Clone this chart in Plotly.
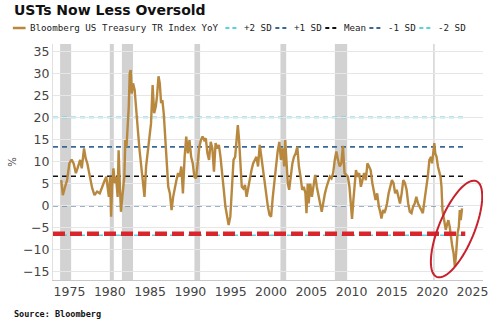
import math
import plotly.graph_objects as go

# Bloomberg US Treasury Total Return Index, year-over-year % change
dates = [
    1973.97, 1974.17, 1974.45, 1974.70, 1974.98, 1975.26, 1975.51, 1975.79, 1975.99, 1976.32,
    1976.52, 1976.80, 1977.00, 1977.21, 1977.53, 1977.82, 1978.10, 1978.42, 1978.75, 1979.03,
    1979.31, 1979.56, 1979.72, 1979.88, 1980.04, 1980.16, 1980.28, 1980.45, 1980.61, 1980.77,
    1980.97, 1981.09, 1981.26, 1981.38, 1981.55, 1981.67, 1981.80, 1981.92, 1982.07, 1982.19,
    1982.35, 1982.47, 1982.59, 1982.72, 1982.88, 1983.08, 1983.28, 1983.48, 1983.69, 1983.89,
    1984.09, 1984.30, 1984.50, 1984.70, 1984.90, 1985.11, 1985.31, 1985.50, 1985.70, 1985.85,
    1986.04, 1986.20, 1986.36, 1986.52, 1986.69, 1986.85, 1987.05, 1987.25, 1987.45, 1987.66,
    1987.86, 1988.06, 1988.26, 1988.47, 1988.67, 1988.87, 1989.07, 1989.28, 1989.48, 1989.68,
    1989.88, 1990.09, 1990.29, 1990.49, 1990.69, 1990.90, 1991.10, 1991.30, 1991.50, 1991.71,
    1991.91, 1992.11, 1992.31, 1992.52, 1992.72, 1992.92, 1993.12, 1993.33, 1993.53, 1993.73,
    1993.93, 1994.14, 1994.34, 1994.54, 1994.74, 1994.95, 1995.15, 1995.35, 1995.55, 1995.76,
    1995.88, 1996.04, 1996.16, 1996.37, 1996.57, 1996.77, 1996.97, 1997.17, 1997.38, 1997.58,
    1997.78, 1997.99, 1998.19, 1998.39, 1998.60, 1998.80, 1999.00, 1999.20, 1999.41, 1999.61,
    1999.81, 2000.01, 2000.22, 2000.42, 2000.62, 2000.82, 2001.03, 2001.23, 2001.43, 2001.64,
    2001.76, 2001.92, 2002.08, 2002.25, 2002.45, 2002.65, 2002.85, 2003.06, 2003.26, 2003.46,
    2003.66, 2003.87, 2004.07, 2004.27, 2004.40, 2004.55, 2004.67, 2004.87, 2005.07, 2005.28,
    2005.48, 2005.68, 2005.88, 2006.09, 2006.29, 2006.49, 2006.69, 2006.90, 2007.10, 2007.30,
    2007.50, 2007.71, 2007.91, 2008.11, 2008.31, 2008.52, 2008.72, 2008.92, 2009.12, 2009.33,
    2009.53, 2009.73, 2009.93, 2010.05, 2010.22, 2010.38, 2010.54, 2010.74, 2010.94, 2011.15,
    2011.35, 2011.55, 2011.76, 2011.96, 2012.16, 2012.36, 2012.57, 2012.77, 2012.97, 2013.17,
    2013.38, 2013.58, 2013.70, 2013.90, 2014.06, 2014.19, 2014.39, 2014.59, 2014.79, 2015.00,
    2015.20, 2015.40, 2015.60, 2015.80, 2016.00, 2016.21, 2016.41, 2016.62, 2016.82, 2017.02,
    2017.22, 2017.43, 2017.63, 2017.83, 2018.03, 2018.24, 2018.44, 2018.64, 2018.84, 2019.05,
    2019.25, 2019.45, 2019.65, 2019.86, 2019.98, 2020.14, 2020.26, 2020.38, 2020.54, 2020.71,
    2020.87, 2021.03, 2021.15, 2021.27, 2021.48, 2021.68, 2021.88, 2022.00, 2022.17, 2022.33,
    2022.49, 2022.65, 2022.81, 2022.97, 2023.14, 2023.30, 2023.42, 2023.54, 2023.70,
]
yoy = [
    5.8, 2.4, 4.3, 5.8, 9.6, 10.5, 9.6, 7.4, 8.5, 10.4,
    8.5, 13.0, 10.8, 9.6, 6.6, 3.9, 2.4, 3.2, 2.8, 4.3,
    5.5, 6.6, 4.3, 2.0, 6.6, -2.5, 4.3, 8.5, 5.1, 6.6,
    2.0, 12.6, 3.9, -1.4, 2.0, 4.3, 6.6, 14.9, 13.4, 17.2,
    22.5, 30.1, 30.8, 25.5, 27.8, 26.3, 22.5, 17.2, 12.6, 8.9,
    5.8, 2.0, 8.9, 12.6, 14.9, 18.7, 27.4, 21.0, 22.5, 24.8,
    29.4, 27.8, 23.3, 24.0, 21.0, 15.7, 8.9, 4.3, 2.8, -1.0,
    2.0, 4.3, 5.8, 7.4, 6.6, 8.9, 2.8, 11.1, 15.7, 11.9,
    14.9, 11.1, 9.6, 6.6, 6.2, 9.6, 13.4, 14.9, 15.7, 14.9,
    15.3, 11.9, 10.4, 14.5, 13.0, 7.7, 14.2, 13.0, 13.8, 11.1,
    8.1, 3.6, -0.2, -2.5, -4.4, -2.5, 4.3, 10.4, 11.1, 17.2,
    18.3, 14.9, 9.6, 4.3, 3.9, 4.7, 2.0, 4.3, 6.6, 8.1,
    9.6, 10.4, 11.1, 8.9, 13.8, 11.1, 8.1, 5.1, 2.8, -0.2,
    -2.1, -2.5, 2.0, 5.8, 8.9, 12.3, 14.5, 10.4, 13.0, 8.9,
    14.9, 8.9, 5.1, 3.6, 6.6, 9.6, 11.1, 11.9, 13.4, 8.9,
    6.6, 3.6, 4.3, 2.8, -1.7, 5.0, 0.5, 5.0, 2.0, 5.0,
    7.0, 4.3, 2.0, 0.5, -1.4, 1.3, 2.8, 4.3, 5.8, 6.6,
    6.2, 7.4, 10.4, 12.3, 10.4, 8.9, 9.6, 13.6, 7.4, 6.9,
    6.6, 4.3, -1.7, -3.0, 1.3, 4.3, 8.1, 6.6, 7.4, 4.3,
    5.8, 7.4, 5.8, 9.6, 8.9, 8.1, 5.1, 2.8, 1.3, 2.8,
    -0.2, -1.7, -2.9, -1.0, -1.7, -1.0, 0.5, 2.8, 4.3, 5.8,
    5.1, 2.8, 3.6, 2.0, 0.5, 2.8, 5.8, 5.1, 3.6, 0.5,
    -1.4, -1.7, -0.2, 0.5, 2.0, 0.5, -0.2, -1.0, -1.7, 1.3,
    3.6, 6.6, 10.4, 11.1, 9.6, 12.6, 14.2, 11.9, 11.1, 8.9,
    7.4, 6.6, 4.3, -1.0, -3.3, -5.5, -4.0, -3.3, -4.8, -7.8,
    -9.3, -10.8, -13.9, -10.8, -6.3, -4.8, -1.0, -3.3, -0.6,
]

# Standard-deviation bands around the long-run mean
band_names = ["+2 SD", "+1 SD", "Mean", "-1 SD", "-2 SD"]
band_levels = [20.07, 13.37, 6.67, -0.03, -6.73]
band_colors = ["#56d4df", "#3a6896", "#111111", "#3a6896", "#56d4df"]

# US recessions (shaded)
rec_start = [1973.83, 1980.00, 1981.50, 1990.50, 2001.17, 2007.92, 2020.12]
rec_end = [1975.20, 1980.50, 1982.88, 1991.20, 2001.88, 2009.45, 2020.30]

threshold_level = -6.4
x_ticks = [1975, 1980, 1985, 1990, 1995, 2000, 2005, 2010, 2015, 2020, 2025]
y_ticks = [-15, -10, -5, 0, 5, 10, 15, 20, 25, 30, 35]

SERIES_NAME = "Bloomberg US Treasury TR Index YoY"
SERIES_COLOR = "#b8883f"
X_RANGE = [1972.95, 2026.3]
Y_RANGE = [-16.9, 36.75]

W, H = 500, 322
PL, PR, PT, PB = 46, 485, 44, 280


def paper_x(px):
    return (px - PL) / (PR - PL)


def paper_y(py):
    return (PB - py) / (PB - PT)


fig = go.Figure()

fig.add_trace(go.Scatter(
    x=dates, y=yoy, mode="lines", name=SERIES_NAME,
    line=dict(color=SERIES_COLOR, width=2.4), showlegend=False,
))

shapes = []
for s, e in zip(rec_start, rec_end):
    shapes.append(dict(type="rect", xref="x", yref="paper", x0=s, x1=e, y0=0, y1=1,
                       fillcolor="#d2d2d2", line=dict(width=0), layer="below"))

for lvl, col in zip(band_levels, band_colors):
    shapes.append(dict(type="line", xref="x", yref="y", x0=X_RANGE[0], x1=dates[-1] + 0.2,
                       y0=lvl, y1=lvl, line=dict(color=col, width=1.6, dash="5px,4px"),
                       layer="below"))

# Highlighted threshold line
shapes.append(dict(type="line", xref="x", yref="y", x0=X_RANGE[0], x1=dates[-1] + 0.4,
                   y0=threshold_level, y1=threshold_level,
                   line=dict(color="#d8262c", width=4.5, dash="12px,5px")))

# Hand-drawn style ellipse around the recent move
cx_px, cy_px, a_px, b_px, tilt = 458, 229, 52, 18, math.radians(23)
pts = []
for i in range(73):
    t = 2 * math.pi * i / 72
    u, v = b_px * math.cos(t), a_px * math.sin(t)
    px = cx_px + u * math.cos(tilt) + v * math.sin(tilt)
    py = cy_px + u * math.sin(tilt) - v * math.cos(tilt)
    xd = X_RANGE[0] + (px - PL) / (PR - PL) * (X_RANGE[1] - X_RANGE[0])
    yd = Y_RANGE[1] - (py - PT) / (PB - PT) * (Y_RANGE[1] - Y_RANGE[0])
    pts.append((xd, yd))
path = "M " + " L ".join(f"{x:.4f},{y:.4f}" for x, y in pts) + " Z"
shapes.append(dict(type="path", xref="x", yref="y", path=path,
                   line=dict(color="#c8202c", width=2)))

# Legend row drawn as samples + labels
legend_items = [(SERIES_NAME, SERIES_COLOR, "solid", 5, 18, 20)]
starts = [(222, 236, 239), (273, 287, 290), (324, 338, 341), (369, 383, 386), (420, 434, 437)]
for name, col, (s0, s1, tx) in zip(band_names, band_colors, starts):
    legend_items.append((name, col, "4px,3px", s0, s1, tx))

LEG_Y = 28
annotations = []
for name, col, dash, s0, s1, tx in legend_items:
    shapes.append(dict(type="line", xref="paper", yref="paper",
                       x0=paper_x(s0), x1=paper_x(s1), y0=paper_y(LEG_Y), y1=paper_y(LEG_Y),
                       line=dict(color=col, width=2.5 if dash == "solid" else 2, dash=dash)))
    annotations.append(dict(xref="paper", yref="paper", x=paper_x(tx), y=paper_y(LEG_Y),
                            xanchor="left", yanchor="middle", showarrow=False, text=name,
                            font=dict(family="DejaVu Sans Mono", size=9.2, color="#222")))

annotations.append(dict(xref="paper", yref="paper", x=paper_x(4), y=paper_y(10),
                        xanchor="left", yanchor="middle", showarrow=False,
                        text="<b>USTs Now Less Oversold</b>",
                        font=dict(family="DejaVu Sans", size=14, color="#111")))
annotations.append(dict(xref="paper", yref="paper", x=paper_x(4), y=paper_y(314),
                        xanchor="left", yanchor="middle", showarrow=False,
                        text="<b>Source: Bloomberg</b>",
                        font=dict(family="DejaVu Sans Mono", size=8.5, color="#111")))

fig.update_layout(
    width=W, height=H,
    margin=dict(l=PL, r=W - PR, t=PT, b=H - PB),
    paper_bgcolor="white", plot_bgcolor="white",
    shapes=shapes, annotations=annotations, showlegend=False,
    xaxis=dict(range=X_RANGE, tickvals=x_ticks, ticktext=[str(t) for t in x_ticks],
               showgrid=False, zeroline=False, showline=True, linecolor="#c8c8c8",
               ticks="", tickfont=dict(family="DejaVu Sans", size=12.5, color="#444")),
    yaxis=dict(range=Y_RANGE, tickvals=y_ticks, showgrid=True, gridcolor="#e6e6e6",
               gridwidth=1, zeroline=False, showline=True, linecolor="#e0e0e0", ticks="",
               tickfont=dict(family="DejaVu Sans", size=12.5, color="#444"),
               title=dict(text="%", standoff=4,
                          font=dict(family="DejaVu Sans", size=10, color="#444"))),
)

fig.write_html("out.html")
